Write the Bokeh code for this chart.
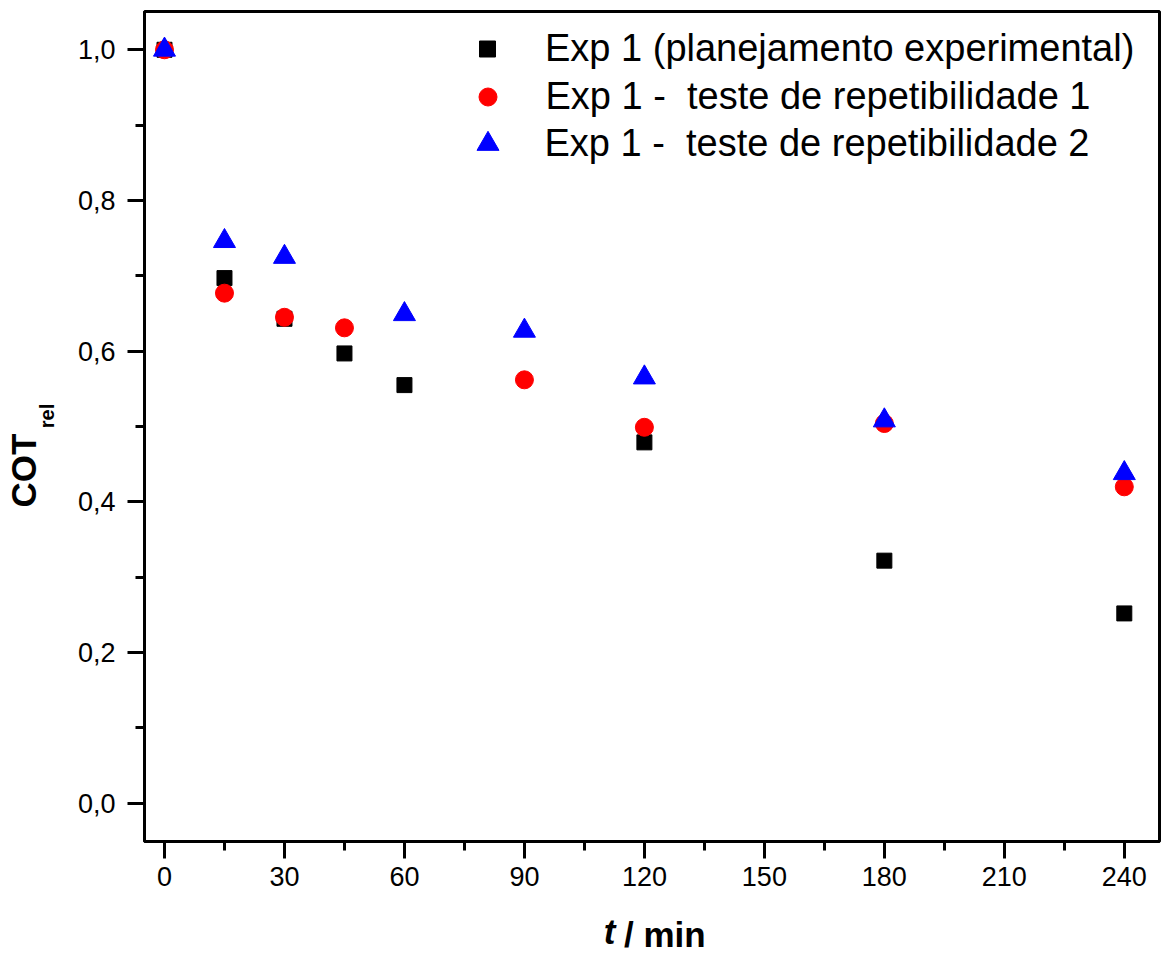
from bokeh.plotting import figure
from bokeh.models import (FixedTicker, CustomJSTickFormatter, Legend, LegendItem, LinearAxis)
from bokeh.embed import file_html
from bokeh.resources import INLINE

# ---- data ----
t_exp = [0, 15, 30, 45, 60, 120, 180, 240]
cot_exp = [1.0, 0.697, 0.643, 0.597, 0.555, 0.479, 0.322, 0.252]

t_rep1 = [0, 15, 30, 45, 90, 120, 180, 240]
cot_rep1 = [1.0, 0.677, 0.645, 0.631, 0.562, 0.499, 0.504, 0.420]

t_rep2 = [0, 15, 30, 60, 90, 120, 180, 240]
cot_rep2 = [1.0, 0.746, 0.725, 0.649, 0.627, 0.565, 0.508, 0.438]

x_ticks = [0, 30, 60, 90, 120, 150, 180, 210, 240]
x_minor = [15, 45, 75, 105, 135, 165, 195, 225]
y_ticks = [0.0, 0.2, 0.4, 0.6, 0.8, 1.0]
y_minor = [0.1, 0.3, 0.5, 0.7, 0.9]

labels = ["Exp 1 (planejamento experimental)",
          "Exp 1 -  teste de repetibilidade 1",
          "Exp 1 -  teste de repetibilidade 2"]

FONT = "Liberation Sans"

p = figure(width=1163, height=958, x_range=(-5, 248.8), y_range=(-0.0507, 1.0508),
           min_border_left=144, min_border_right=4, min_border_top=11, min_border_bottom=117,
           output_backend="svg", toolbar_location=None)
p.background_fill_color = "white"
p.border_fill_color = "white"
p.grid.visible = False
p.outline_line_color = "black"
p.outline_line_width = 3

for ax in (p.xaxis[0], p.yaxis[0]):
    ax.axis_line_width = 3
    ax.axis_line_color = "black"
    ax.major_tick_line_width = 3
    ax.minor_tick_line_width = 3
    ax.major_tick_out = 17
    ax.major_tick_in = 0
    ax.minor_tick_out = 9
    ax.minor_tick_in = 0
    ax.major_label_text_font = FONT
    ax.major_label_text_font_size = "27px"
    ax.major_label_text_color = "black"

p.xaxis[0].ticker = FixedTicker(ticks=x_ticks, minor_ticks=x_minor)
p.yaxis[0].ticker = FixedTicker(ticks=y_ticks, minor_ticks=y_minor)
p.yaxis[0].formatter = CustomJSTickFormatter(code="return tick.toFixed(1).replace('.', ',');")
p.xaxis[0].major_label_standoff = 8
p.yaxis[0].major_label_standoff = 12

r1 = p.scatter(t_exp, cot_exp, marker="square", size=15, color="#000000")
r2 = p.scatter(t_rep1, cot_rep1, marker="circle", size=18, color="#FF0000")
r3 = p.scatter(t_rep2, cot_rep2, marker="triangle", size=22, color="#0000FF")

# legends (one per entry so each marker keeps its own size)
specs = [(r1, labels[0], 40, 765.5), (r2, labels[1], 45, 717.5), (r3, labels[2], 55, 670.5)]
for r, lab, w, vy in specs:
    lg = Legend(items=[LegendItem(label=lab, renderers=[r])],
                location=(487 - w / 2 - 144, vy),
                glyph_width=w, glyph_height=55, label_height=55,
                label_standoff=int(round(545 - (487 + w / 2))),
                padding=0, spacing=0, margin=0,
                border_line_color=None, background_fill_alpha=0,
                label_text_font=FONT, label_text_font_size="38px",
                label_text_color="black")
    p.add_layout(lg)


# axis titles, drawn as tick labels of bare helper axes placed outside the frame
def title_axis(text, pos, size, style, standoff, orientation="horizontal"):
    a = LinearAxis(ticker=FixedTicker(ticks=[pos], minor_ticks=[]),
                   formatter=CustomJSTickFormatter(code="return %r;" % text))
    a.axis_line_color = None
    a.major_tick_line_color = None
    a.minor_tick_line_color = None
    a.major_tick_out = 0
    a.major_tick_in = 0
    a.minor_tick_out = 0
    a.minor_tick_in = 0
    a.major_label_standoff = standoff
    a.major_label_orientation = orientation
    a.major_label_text_font = FONT
    a.major_label_text_font_size = size
    a.major_label_text_font_style = style
    a.major_label_text_color = "black"
    return a

T_X, MIN_X = 111.3, 125.1      # horizontal centres of "t" and "/ min" (time units)
REL_Y, COT_Y = 0.514, 0.4417   # vertical centres of "rel" and "COT"

p.add_layout(title_axis("t", T_X, "35px", "bold italic", 23), "below")
p.add_layout(title_axis("/ min", MIN_X, "35px", "bold", -39), "below")
p.add_layout(title_axis("rel", REL_Y, "20px", "bold", 16, "vertical"), "left")
p.add_layout(title_axis("COT", COT_Y, "35px", "bold", -10, "vertical"), "left")

open("out.html", "w").write(file_html(p, INLINE))
